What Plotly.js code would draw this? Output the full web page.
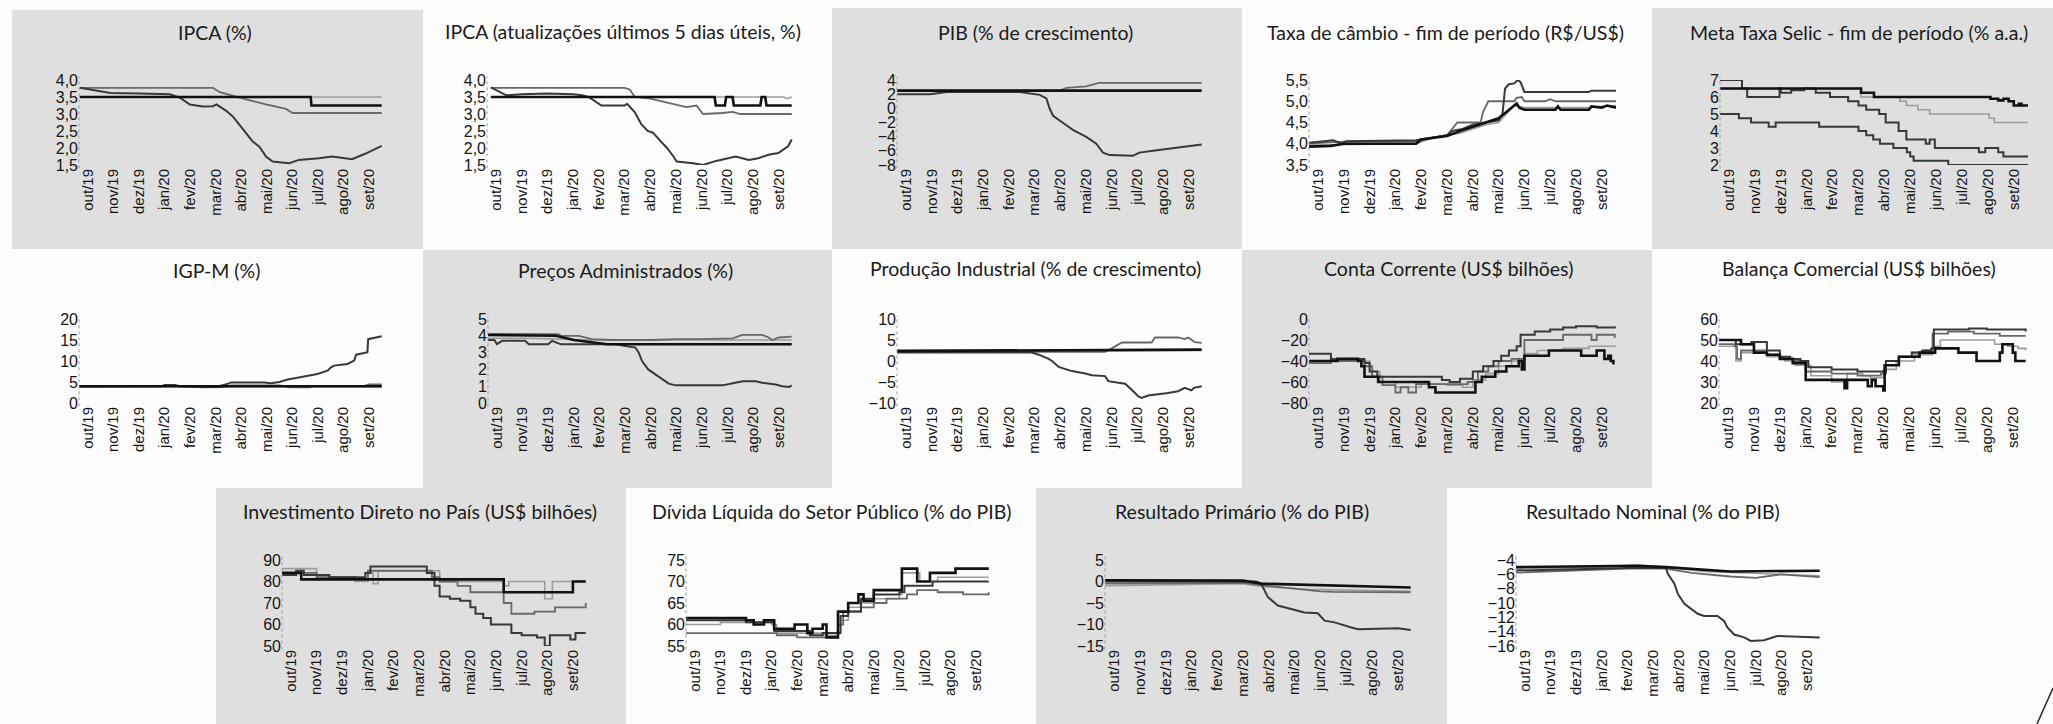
<!DOCTYPE html>
<html><head><meta charset="utf-8">
<script src="https://cdn.plot.ly/plotly-3.0.1.min.js"></script>
<style>html,body{margin:0;padding:0;background:#fcfcfc;}#chart{width:2053px;height:724px;}</style>
</head><body><div id="chart"></div>
<script>
// ---------- tick labels ----------
const monthLabels = ['out/19','nov/19','dez/19','jan/20','fev/20','mar/20','abr/20','mai/20','jun/20','jul/20','ago/20','set/20'];
const monthIdx = [0,1,2,3,4,5,6,7,8,9,10,11];
const titles = ['IPCA (%)','IPCA (atualizações últimos 5 dias úteis, %)','PIB (% de crescimento)','Taxa de câmbio - fim de período (R$/US$)','Meta Taxa Selic - fim de período (% a.a.)',
 'IGP-M (%)','Preços Administrados (%)','Produção Industrial (% de crescimento)','Conta Corrente (US$ bilhões)','Balança Comercial (US$ bilhões)',
 'Investimento Direto no País (US$ bilhões)','Dívida Líquida do Setor Público (% do PIB)','Resultado Primário (% do PIB)','Resultado Nominal (% do PIB)'];

// ---------- series: [month index since out/19, value] ----------
const ipca_20 = [[-0.32,3.77],[0.2,3.7],[0.88,3.62],[2.0,3.6],[3.21,3.58],[3.6,3.48],[3.99,3.28],[4.5,3.22],[4.9,3.23],[5.03,3.28],[5.4,3.1],[5.67,2.93],[5.9,2.7],[6.19,2.44],[6.45,2.19],[6.71,2.04],[6.97,1.75],[7.23,1.6],[7.88,1.55],[8.26,1.65],[9.04,1.7],[9.56,1.75],[10.34,1.67],[10.85,1.83],[11.5,2.06]];
const ipca_21 = [[-0.32,3.77],[4.9,3.77],[5.16,3.64],[5.67,3.53],[6.19,3.43],[6.97,3.28],[7.75,3.15],[8.01,3.03],[11.5,3.03]];
const ipca_22 = [[-0.32,3.5],[8.72,3.5],[8.75,3.25],[11.5,3.25]];
const ipca_23 = [[-0.32,3.5],[11.5,3.5]];

const ipca5_20 = [[-0.2,3.78],[0.4,3.55],[1.0,3.58],[2.0,3.6],[3.0,3.58],[3.34,3.55],[3.6,3.5],[4.1,3.25],[5.0,3.25],[5.1,3.3],[5.4,3.05],[5.65,2.7],[5.9,2.5],[6.1,2.45],[6.4,2.2],[6.65,2.0],[6.9,1.75],[7.03,1.6],[7.67,1.55],[8.05,1.5],[8.56,1.62],[9.07,1.7],[9.32,1.75],[9.83,1.65],[10.2,1.7],[10.6,1.8],[10.98,1.85],[11.36,2.05],[11.5,2.25]];
const ipca5_21 = [[-0.2,3.77],[5.0,3.77],[5.2,3.72],[5.4,3.5],[6.0,3.45],[6.8,3.3],[7.4,3.2],[7.8,3.25],[8.05,3.0],[8.8,3.03],[9.2,3.06],[9.5,3.0],[11.5,3.0]];
const ipca5_22 = [[-0.2,3.5],[8.5,3.5],[8.55,3.25],[8.9,3.25],[8.95,3.5],[9.2,3.5],[9.25,3.25],[10.28,3.25],[10.33,3.5],[10.47,3.5],[10.52,3.25],[11.5,3.25]];
const ipca5_23 = [[-0.2,3.5],[11.2,3.5],[11.3,3.45],[11.5,3.5]];

const pib_20 = [[-0.34,2.0],[0.93,2.0],[1.58,2.3],[4.42,2.3],[5.2,1.9],[5.46,1.4],[5.59,-0.06],[5.72,-1.05],[6.1,-2.04],[6.49,-3.03],[7.01,-4.02],[7.4,-5.0],[7.66,-6.25],[7.92,-6.6],[8.82,-6.7],[8.95,-6.5],[9.08,-6.25],[9.6,-6.0],[10.38,-5.6],[10.89,-5.4],[11.5,-5.1]];
const pib_21 = [[-0.34,2.5],[5.98,2.5],[6.24,2.9],[7.0,3.1],[7.4,3.5],[7.5,3.6],[11.5,3.6]];
const pib_22 = [[-0.34,2.5],[11.5,2.5]];
const pib_23 = [[-0.34,2.45],[11.5,2.45]];

const cambio_a = [[-0.42,4.02],[0.3,4.05],[0.6,4.08],[0.9,4.0],[1.1,4.06],[3.8,4.08],[4.2,4.12],[4.7,4.17],[5.0,4.2],[5.2,4.3],[5.6,4.35],[6.0,4.45],[6.5,4.5],[7.0,4.55],[7.15,4.7],[7.25,5.3],[7.4,5.4],[7.6,5.42],[7.75,5.5],[7.85,5.45],[8.0,5.22],[10.5,5.22],[10.6,5.25],[11.55,5.25]];
const cambio_b = [[-0.42,4.0],[1.0,4.05],[3.8,4.05],[4.2,4.12],[5.0,4.2],[5.2,4.35],[5.4,4.5],[6.3,4.5],[6.4,4.75],[6.6,5.0],[7.6,5.0],[7.7,5.08],[7.9,5.1],[8.0,5.0],[8.8,5.0],[9.0,5.05],[9.2,5.0],[11.55,5.0]];
const cambio_c = [[-0.42,3.93],[0.5,3.95],[1.0,4.0],[3.8,4.0],[4.0,4.1],[5.0,4.18],[5.5,4.3],[6.0,4.4],[6.5,4.5],[7.0,4.6],[7.3,4.75],[7.5,4.85],[7.7,4.95],[7.8,4.85],[8.0,4.8],[9.2,4.8],[9.3,4.88],[9.4,4.8],[10.5,4.8],[10.6,4.88],[11.0,4.85],[11.2,4.9],[11.55,4.85]];
const cambio_d = [[-0.42,3.97],[1.0,3.98],[3.8,4.0],[4.5,4.15],[5.5,4.25],[6.5,4.45],[7.0,4.5],[7.3,4.7],[7.6,4.9],[8.0,4.85],[10.5,4.85],[11.0,4.88],[11.55,4.9]];

const selic_20 = [[-0.42,5.0],[0.38,4.75],[0.85,4.5],[1.53,4.25],[1.8,4.5],[3.48,4.25],[5.0,4.0],[5.3,3.75],[5.57,3.5],[5.83,3.25],[6.35,3.0],[6.87,2.75],[7.0,2.5],[7.13,2.25],[8.47,2.0],[11.55,2.0]];
const selic_21 = [[-0.42,7.0],[0.5,6.5],[0.7,6.0],[1.95,6.5],[2.0,6.25],[2.4,6.4],[2.9,6.5],[3.35,6.25],[3.9,6.0],[4.6,5.75],[5.0,5.5],[5.3,5.25],[5.8,5.0],[6.05,4.5],[6.55,4.0],[6.85,3.5],[7.6,3.25],[7.75,3.5],[7.95,3.0],[9.65,2.75],[9.9,3.0],[10.4,2.75],[10.6,2.5],[11.55,2.5]];
const selic_22 = [[-0.42,6.5],[5.1,6.0],[6.6,5.75],[6.85,5.5],[7.3,5.25],[7.75,5.0],[10.05,4.75],[10.25,4.5],[11.55,4.5]];
const selic_23 = [[-0.42,6.5],[5.1,6.25],[5.6,6.0],[10.1,5.9],[10.4,5.8],[10.6,5.9],[10.8,5.75],[11.0,5.5],[11.2,5.6],[11.3,5.5],[11.55,5.5]];

const igpm_20 = [[-0.43,3.9],[2.9,4.0],[3.0,4.3],[3.4,4.3],[3.6,4.0],[4.5,3.8],[5.0,3.8],[5.5,4.6],[5.6,4.9],[6.9,4.9],[7.16,4.7],[7.5,5.0],[7.81,5.6],[8.2,6.0],[8.59,6.5],[8.98,6.9],[9.38,7.7],[9.51,8.5],[9.64,8.9],[10.16,9.3],[10.42,10.1],[10.5,11.5],[10.81,11.9],[10.94,12.1],[10.97,15.2],[11.5,15.9]];
const igpm_21 = [[-0.43,4.0],[3.0,4.1],[3.4,4.1],[4.5,3.7],[5.3,3.8],[5.6,4.2],[7.5,4.2],[7.9,3.7],[8.7,3.7],[8.8,4.0],[10.8,4.0],[11.0,4.4],[11.5,4.4]];
const igpm_22 = [[-0.43,4.0],[11.5,4.0]];
const igpm_23 = [[-0.43,3.9],[5.0,3.9],[5.3,4.0],[11.5,3.9]];

const adm_20 = [[-0.39,3.75],[-0.1,3.75],[0.0,3.5],[0.2,3.7],[1.1,3.7],[1.24,3.5],[2.0,3.5],[2.15,3.7],[2.4,3.55],[2.5,3.5],[4.6,3.5],[5.0,3.4],[5.4,3.3],[5.53,3.0],[5.66,2.5],[5.9,2.0],[6.2,1.7],[6.45,1.4],[6.7,1.15],[6.97,1.05],[8.8,1.05],[9.3,1.2],[9.6,1.3],[10.1,1.3],[10.35,1.2],[10.87,1.1],[11.13,1.0],[11.4,0.95],[11.5,1.05]];
const adm_21 = [[-0.39,4.12],[2.4,4.1],[2.5,4.0],[3.2,4.0],[3.3,3.95],[3.7,3.8],[4.5,3.75],[6.0,3.75],[7.0,3.8],[7.9,3.8],[9.2,3.85],[9.57,4.05],[10.35,4.05],[10.6,3.9],[10.74,3.75],[11.0,3.9],[11.5,3.95]];
const adm_22 = [[-0.39,4.05],[2.3,4.0],[3.0,3.75],[3.9,3.6],[4.3,3.5],[11.5,3.5]];
const adm_23 = [[-0.39,3.85],[1.0,3.85],[2.5,3.8],[3.5,3.75],[8.0,3.75],[11.5,3.75]];

const pi_20 = [[-0.36,2.0],[1.0,1.9],[2.0,2.0],[4.9,2.0],[5.16,1.5],[5.55,0.5],[5.68,0.0],[5.94,-1.4],[6.45,-2.4],[6.97,-3.0],[7.23,-3.4],[7.74,-3.6],[7.87,-4.8],[8.26,-5.2],[8.52,-5.4],[8.77,-6.8],[9.03,-8.4],[9.16,-8.8],[9.42,-8.2],[10.19,-7.6],[10.58,-7.2],[10.84,-6.4],[10.97,-6.8],[11.1,-7.0],[11.2,-6.4],[11.5,-6.0]];
const pi_21 = [[-0.36,2.2],[7.74,2.2],[8.0,3.0],[8.26,4.0],[8.4,4.4],[9.55,4.4],[9.68,5.6],[10.58,5.6],[10.84,5.2],[10.97,5.6],[11.23,4.5],[11.5,4.3]];
const pi_22 = [[-0.36,2.4],[5.7,2.5],[11.5,2.7]];
const pi_23 = [[-0.36,2.1],[5.8,2.6],[7.0,2.4],[11.5,2.5]];

const cc_a = [[-0.43,-33],[0.2,-33],[0.5,-38],[1.6,-38],[1.8,-42],[2.0,-50],[2.3,-55],[4.5,-55],[4.8,-58],[5.1,-60],[5.5,-57],[6.0,-50],[6.4,-45],[6.8,-40],[7.1,-35],[7.4,-30],[7.7,-26],[7.85,-15],[8.4,-12],[9.0,-10],[9.5,-8],[10.0,-7],[10.8,-8],[11.5,-7]];
const cc_b = [[-0.43,-42],[0.5,-40],[1.6,-40],[1.8,-45],[2.1,-55],[2.5,-63],[3.0,-70],[3.2,-65],[3.5,-70],[3.8,-62],[4.8,-62],[5.2,-62],[5.8,-60],[6.2,-50],[6.6,-45],[7.0,-40],[7.5,-38],[7.9,-38],[8.0,-20],[9.2,-20],[9.5,-15],[10.5,-15],[10.6,-20],[10.8,-15],[11.2,-15],[11.5,-18]];
const cc_c = [[-0.43,-40],[1.6,-40],[2.0,-50],[2.4,-60],[3.0,-65],[4.0,-62],[5.0,-63],[5.6,-65],[6.0,-58],[6.5,-52],[7.0,-45],[7.5,-40],[8.0,-33],[8.5,-30],[9.5,-28],[10.5,-26],[11.5,-25]];
const cc_d = [[-0.43,-40],[0.75,-38],[1.55,-40],[1.68,-45],[1.8,-55],[2.33,-60],[4.3,-65],[4.55,-70],[6.1,-60],[6.35,-55],[6.87,-50],[7.3,-45],[7.78,-40],[7.9,-48],[8.0,-35],[8.95,-30],[10.2,-35],[10.8,-30],[11.1,-38],[11.25,-35],[11.35,-40],[11.45,-42],[11.5,-42]];

const bc_a = [[-0.46,50],[0.3,48],[0.9,49],[1.37,49],[1.5,45],[2.0,42],[2.4,41],[2.8,40],[3.1,37],[4.0,36],[5.0,35],[5.9,35],[6.1,40],[6.6,42],[7.1,44],[7.5,45],[7.85,46],[7.95,55],[9.2,55],[9.3,55.5],[10.0,55],[11.5,54]];
const bc_b = [[-0.46,48],[0.25,47],[0.35,41],[0.5,45],[1.0,45],[1.5,43],[2.0,41],[2.5,40],[3.0,35],[4.0,34],[5.0,33],[5.9,34],[6.1,38],[6.6,42],[7.1,44],[7.6,45],[7.9,53],[8.5,54],[9.5,53],[10.5,52],[11.5,52]];
const bc_c = [[-0.46,47],[0.3,40],[0.5,44],[1.5,42],[2.2,40],[2.6,38],[3.2,33],[4.0,30],[4.4,30],[4.6,34],[5.2,33],[5.5,32],[6.0,36],[6.5,40],[7.2,43],[7.9,47],[8.2,50],[10.0,50],[10.3,48],[10.8,47],[11.2,46],[11.5,45]];
const bc_d = [[-0.46,50],[0.5,48],[1.0,44],[1.5,43],[2.0,41],[2.5,39],[3.0,31],[4.5,27],[4.6,31],[5.4,28],[5.55,31],[5.7,28],[6.0,26],[6.05,38],[6.6,42],[7.4,44],[8.0,46],[8.9,44],[9.6,40],[10.5,44],[10.6,48],[11.0,44],[11.1,40],[11.5,40]];

const idp_20 = [[-0.47,83],[0.2,85],[0.5,83],[1.5,82],[2.9,84],[3.1,87],[5.0,87],[5.3,84],[5.6,78],[5.8,73],[6.2,72],[6.6,71],[7.0,68],[7.2,65],[7.5,63],[7.8,60],[8.3,60],[8.6,56],[9.0,55],[9.6,54],[9.9,50],[10.1,55],[10.8,55],[10.9,53],[11.1,56],[11.5,56]];
const idp_21 = [[-0.47,84],[1.0,82],[2.5,81],[3.0,85],[5.0,85],[5.5,82],[5.8,80],[6.5,78],[7.0,75],[8.2,75],[8.3,70],[8.6,65],[9.5,66],[10.0,66],[10.3,68],[10.7,68],[11.5,70]];
const idp_22 = [[-0.47,84],[0.4,81],[8.3,75],[11.0,80],[11.5,80]];
const idp_23 = [[-0.47,86],[0.5,86],[1.0,82],[2.5,80],[3.0,84],[3.2,79],[3.4,85],[5.0,85],[5.8,80],[8.2,80],[8.3,78],[8.5,80],[9.8,80],[9.9,72],[10.1,72],[10.2,80],[11.5,80]];

const div_a = [[-0.35,61.5],[2.0,61],[2.3,60],[2.7,61],[3.0,61],[3.1,59],[3.8,59],[3.9,60],[4.4,58],[4.6,59],[5.0,60],[5.15,57],[5.5,57],[5.6,63],[6.0,65],[6.4,67],[6.6,65.5],[7.0,68],[8.0,68],[8.1,73],[8.6,73],[8.7,70],[9.2,72],[10.0,72],[10.2,73],[11.5,73]];
const div_b = [[-0.35,61],[2.0,60.5],[3.0,60.5],[3.1,58.5],[4.0,58.5],[4.5,57.5],[5.0,58],[5.5,58],[5.7,62],[6.0,63],[6.5,66],[7.0,67],[8.0,67.5],[8.2,69],[9.0,69],[9.3,70],[11.5,70]];
const div_c = [[-0.35,60],[1.0,60.5],[3.0,60],[3.2,58],[5.0,57.5],[5.6,61],[6.0,64],[6.5,65],[7.0,66],[8.0,67],[8.1,72],[8.6,72],[8.8,70],[9.5,71],[11.5,71]];
const div_d = [[-0.35,58],[3.0,58],[3.2,57.5],[4.0,57],[5.3,57],[5.6,60],[5.8,63],[6.5,64],[7.0,65],[7.5,66],[8.3,67],[8.7,68],[9.5,67.5],[10.5,67],[11.5,67.5]];

const prim_20 = [[-0.5,0.0],[5.5,0.0],[5.7,-0.5],[5.96,-3.6],[6.35,-5.6],[6.87,-6.4],[7.38,-7.2],[7.9,-7.4],[8.03,-8.3],[8.16,-9.1],[8.55,-9.5],[8.94,-10.3],[9.2,-10.7],[9.46,-11.1],[11.0,-10.9],[11.5,-11.3]];
const prim_21 = [[-0.5,0.3],[5.0,0.2],[5.7,-0.5],[7.0,-0.7],[9.0,-1.0],[10.0,-1.2],[11.5,-1.4]];
const prim_22 = [[-0.5,-0.5],[5.0,-0.3],[5.6,-0.8],[7.0,-1.6],[8.0,-2.3],[8.5,-2.4],[11.5,-2.5]];
const prim_23 = [[-0.5,-1.0],[5.0,-0.5],[5.8,-1.2],[7.5,-1.8],[9.0,-2.0],[11.5,-2.3]];

const nom_20 = [[-0.6,-5.5],[2.0,-5.3],[4.0,-5.1],[5.5,-5.1],[5.57,-5.9],[5.83,-7.3],[5.96,-8.7],[6.22,-10.1],[6.48,-10.8],[6.74,-11.5],[6.99,-11.8],[7.51,-11.8],[7.77,-12.5],[7.9,-13.4],[8.16,-14.4],[8.55,-14.8],[8.81,-15.3],[9.33,-15.2],[9.84,-14.6],[10.88,-14.7],[11.5,-14.8]];
const nom_21 = [[-0.6,-5.0],[4.4,-4.8],[5.5,-5.0],[7.0,-5.3],[8.0,-5.6],[11.5,-5.5]];
const nom_22 = [[-0.6,-5.8],[2.0,-5.5],[4.0,-5.2],[5.5,-5.2],[6.5,-5.8],[8.0,-6.3],[9.0,-6.5],[10.0,-6.0],[11.5,-6.4]];
const nom_23 = [[-0.6,-5.3],[3.0,-5.0],[4.3,-4.7],[5.5,-5.0],[7.0,-5.6],[9.0,-5.9],[11.5,-6.2]];

// ---------- panel definitions (value axis + series) ----------
const panels = [
 {r:[1.5,4],d:0.5,f:'.1f',s:[[ipca_23,'l'],[ipca_21,'g'],[ipca_20,'d'],[ipca_22,'k']]},
 {r:[1.5,4],d:0.5,f:'.1f',s:[[ipca5_23,'l'],[ipca5_21,'g'],[ipca5_20,'d'],[ipca5_22,'k']]},
 {r:[-8,4],d:2,f:'',s:[[pib_23,'l'],[pib_21,'g'],[pib_20,'d'],[pib_22,'k']]},
 {r:[3.5,5.5],d:0.5,f:'.1f',s:[[cambio_d,'l'],[cambio_b,'g'],[cambio_a,'d'],[cambio_c,'k']]},
 {r:[2,7],d:1,f:'',hv:true,s:[[selic_22,'l'],[selic_21,'d'],[selic_20,'d'],[selic_23,'k']]},
 {r:[0,20],d:5,f:'',s:[[igpm_23,'l'],[igpm_21,'g'],[igpm_20,'d'],[igpm_22,'k']]},
 {r:[0,5],d:1,f:'',s:[[adm_23,'l'],[adm_21,'g'],[adm_20,'d'],[adm_22,'k']]},
 {r:[-10,10],d:5,f:'',s:[[pi_23,'l'],[pi_21,'g'],[pi_20,'d'],[pi_22,'k']]},
 {r:[-80,0],d:20,f:'',hv:true,s:[[cc_c,'l'],[cc_b,'g'],[cc_a,'d'],[cc_d,'k']]},
 {r:[20,60],d:10,f:'',hv:true,s:[[bc_c,'l'],[bc_b,'g'],[bc_a,'d'],[bc_d,'k']]},
 {r:[50,90],d:10,f:'',hv:true,s:[[idp_23,'l'],[idp_21,'g'],[idp_20,'d'],[idp_22,'k']]},
 {r:[55,75],d:5,f:'',hv:true,s:[[div_c,'l'],[div_d,'g'],[div_b,'d'],[div_a,'k']]},
 {r:[-15,5],d:5,f:'',s:[[prim_23,'l'],[prim_22,'g'],[prim_20,'d'],[prim_21,'k']]},
 {r:[-16,-4],d:2,f:'',s:[[nom_23,'l'],[nom_22,'g'],[nom_20,'d'],[nom_21,'k']]}
];

// ---------- layout geometry (pixels) ----------
const W = 2053, H = 724;
const boxes = [
 [79,383,80,165],[487,793,80,165],[897,1203,80,165],[1309,1616,80,165],[1720,2028,80,165],
 [79,383,319,403],[488,793,319,403],[897,1203,319,403],[1309,1616,319,403],[1719,2027,319,403],
 [282,587,560,646],[686,990,560,646],[1105,1412,560,646],[1516,1821,560,646]
];
const titleXY = [[215,32],[623,31],[1035,32],[1445,32],[1859,32],[216,270],[625,270],[1035,268],[1448,268],[1859,268],[420,511],[831,511],[1242,511],[1653,511]];
const greyRects = [[12,423,10,249],[832,1242,8,249],[1652,2053,8,249],[423,832,250,488],[1242,1652,250,488],[216,626,488,724],[1036,1447,488,724]];
const styles = {k:{c:'#111111',w:2.6},d:{c:'#383838',w:2.0},g:{c:'#686868',w:1.8},l:{c:'#9c9c9c',w:1.6}};

const px = x => x / W, py = y => 1 - y / H;
const traces = [], shapes = [], annotations = [];
const layout = {
 width: W, height: H, margin:{l:0,r:0,t:0,b:0},
 paper_bgcolor:'#fcfcfc', plot_bgcolor:'rgba(0,0,0,0)',
 separators: ',.', showlegend:false
};

greyRects.forEach(g => shapes.push({type:'rect',xref:'paper',yref:'paper',x0:px(g[0]),x1:px(g[1]),y0:py(g[3]),y1:py(g[2]),fillcolor:'#dfdfdf',line:{width:0},layer:'below'}));
shapes.push({type:'line',xref:'paper',yref:'paper',x0:px(2037),y0:py(724),x1:px(2053),y1:py(688),line:{color:'#222',width:1.5}});

const xFont = {family:'Liberation Sans, Arial, sans-serif', size:15, color:'#141414'};
const yFont = {family:'Liberation Sans, Arial, sans-serif', size:16, color:'#141414'};
panels.forEach((p, i) => {
 const n = i + 1, sx = n === 1 ? '' : String(n);
 const b = boxes[i];
 layout['xaxis' + sx] = {
  domain:[px(b[0]), px(b[1])], anchor:'y' + sx, range:[-0.35, 11.55],
  tickmode:'array', tickvals: monthIdx, ticktext: monthLabels, tickangle:-90,
  tickfont: xFont, showgrid:false, zeroline:false, showline:false, ticks:'', fixedrange:true
 };
 layout['yaxis' + sx] = {
  domain:[py(b[3]), py(b[2])], anchor:'x' + sx, range:p.r, tick0:p.r[0], dtick:p.d,
  tickformat:p.f, tickfont: yFont,
  showgrid:false, zeroline:false, showline:false, ticks:'', fixedrange:true
 };
 shapes.push({type:'line', xref:'x' + sx + ' domain', yref:'y' + sx + ' domain', x0:0, x1:0, y0:-0.04, y1:1.04, line:{color:'#9a9a9a', width:1, dash:'dot'}});
 annotations.push({text:titles[i], xref:'paper', yref:'paper', x:px(titleXY[i][0]), y:py(titleXY[i][1]), xanchor:'center', yanchor:'middle', showarrow:false, font:{family:'Lato, Noto Sans, sans-serif', size:19.5, color:'#1a1a1a'}});
 p.s.forEach(([arr, st]) => {
  const s = styles[st];
  traces.push({type:'scatter', mode:'lines', x:arr.map(q => q[0]), y:arr.map(q => q[1]), xaxis:'x' + sx, yaxis:'y' + sx,
   line:{color:s.c, width:s.w, shape: p.hv ? 'hv' : 'linear'}, hoverinfo:'skip', cliponaxis:true});
 });
});
layout.shapes = shapes; layout.annotations = annotations;
Plotly.newPlot('chart', traces, layout, {staticPlot:true, displayModeBar:false});
</script></body></html>
